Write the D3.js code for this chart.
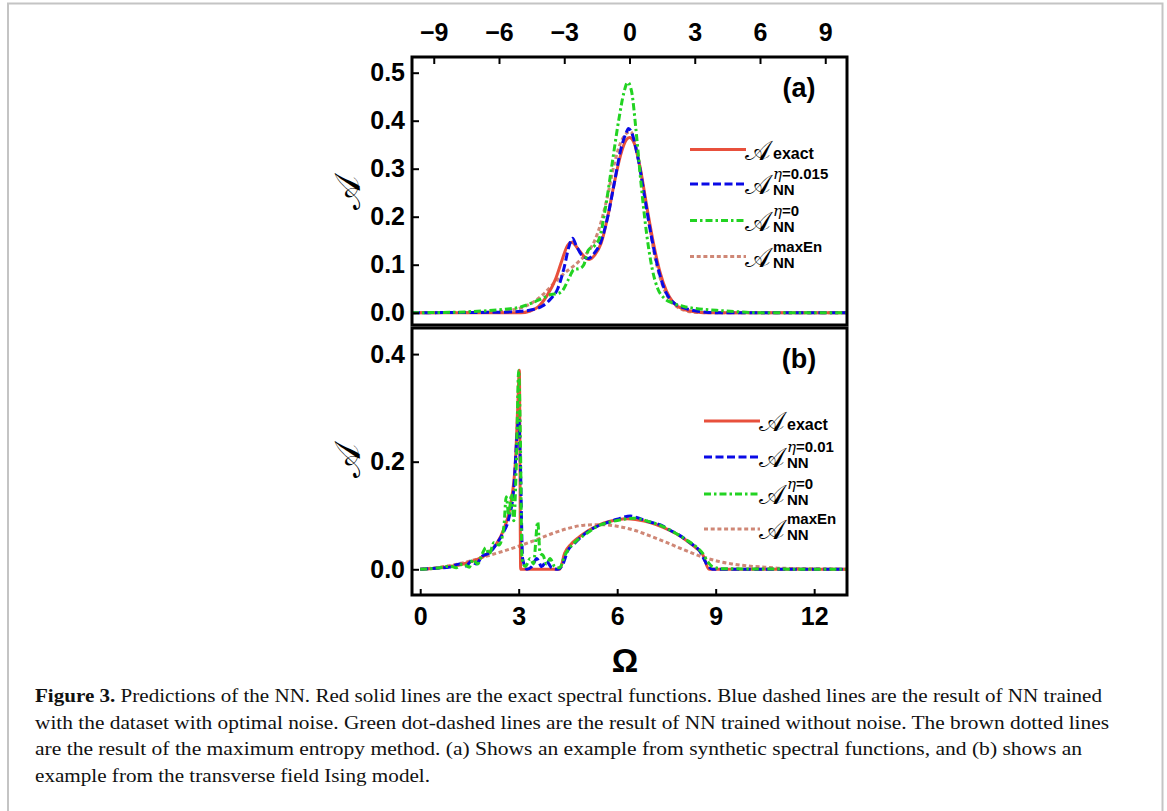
<!DOCTYPE html>
<html>
<head>
<meta charset="utf-8">
<style>
  body { margin: 0; background: #fff; }
  svg { display: block; }
</style>
</head>
<body>
<svg width="1167" height="811"></svg>
<script src="https://cdn.jsdelivr.net/npm/d3@7" charset="utf-8"></script>
<script>
// ---- data ----
// panel (a): synthetic spectral function, top axis -10..10
const aTicksTop = [-9, -6, -3, 0, 3, 6, 9];
const aTicksY = [0, 0.1, 0.2, 0.3, 0.4, 0.5];
const aExact = [[-10,0],[-5,0],[-4.6,0.003],[-4.2,0.012],[-3.8,0.035],[-3.4,0.07],[-3.1,0.11],[-2.85,0.14],[-2.65,0.147],[-2.4,0.135],[-2.1,0.118],[-1.85,0.111],[-1.6,0.12],[-1.3,0.145],[-1.0,0.2],[-0.7,0.27],[-0.4,0.33],[-0.15,0.36],[0,0.365],[0.2,0.355],[0.5,0.3],[0.8,0.22],[1.1,0.145],[1.4,0.085],[1.7,0.045],[2.0,0.022],[2.5,0.007],[3.0,0.002],[3.5,0],[10,0]];
const aNoise = [[-10,0],[-6,0.001],[-5,0.003],[-4.5,0.006],[-4.0,0.014],[-3.6,0.03],[-3.3,0.05],[-3.0,0.095],[-2.8,0.135],[-2.62,0.155],[-2.45,0.14],[-2.2,0.12],[-1.9,0.113],[-1.6,0.125],[-1.3,0.15],[-1.0,0.2],[-0.7,0.27],[-0.4,0.34],[-0.15,0.375],[-0.05,0.384],[0.1,0.375],[0.4,0.32],[0.7,0.24],[1.0,0.16],[1.3,0.095],[1.6,0.05],[2.0,0.022],[2.5,0.01],[3.0,0.004],[3.5,0.001],[4,0],[10,0]];
const aClean = [[-10,0],[-8,0.001],[-7,0.003],[-6,0.006],[-5,0.012],[-4.5,0.02],[-4.0,0.03],[-3.6,0.038],[-3.3,0.04],[-3.1,0.045],[-2.8,0.07],[-2.55,0.09],[-2.3,0.092],[-2.1,0.1],[-1.9,0.13],[-1.6,0.14],[-1.35,0.16],[-1.1,0.22],[-0.8,0.31],[-0.5,0.4],[-0.25,0.46],[-0.08,0.48],[0.1,0.46],[0.3,0.38],[0.55,0.26],[0.8,0.16],[1.05,0.09],[1.3,0.05],[1.6,0.03],[2.0,0.02],[2.5,0.013],[3.0,0.009],[4.0,0.005],[5.0,0.002],[6,0],[10,0]];
const aMaxEn = [[-10,0],[-6.5,0.001],[-5.5,0.005],[-5.0,0.01],[-4.5,0.02],[-4.0,0.037],[-3.5,0.06],[-3.0,0.082],[-2.5,0.1],[-2.0,0.122],[-1.6,0.15],[-1.3,0.19],[-1.0,0.245],[-0.7,0.31],[-0.4,0.355],[-0.1,0.375],[0.05,0.377],[0.3,0.345],[0.6,0.27],[0.9,0.185],[1.2,0.11],[1.5,0.06],[1.8,0.03],[2.2,0.012],[2.6,0.004],[3.0,0.001],[3.5,0],[10,0]];

// panel (b): transverse field Ising model, bottom axis -0.25..13
const bTicksX = [0, 3, 6, 9, 12];
const bTicksY = [0, 0.2, 0.4];
const bExact = [[0,0],[0.5,0.002],[1.0,0.006],[1.5,0.013],[2.0,0.027],[2.3,0.045],[2.55,0.075],[2.75,0.12],[2.9,0.2],[2.97,0.3],[3.02,0.37],[3.06,0],[4.25,0],[4.4,0.03],[4.6,0.047],[4.8,0.058],[5.0,0.067],[5.3,0.078],[5.6,0.086],[6.0,0.092],[6.3,0.094],[6.6,0.092],[7.0,0.087],[7.4,0.078],[7.8,0.066],[8.1,0.054],[8.4,0.04],[8.6,0.028],[8.8,0],[13,0]];
const bNoise = [[0,0],[0.5,0.002],[0.9,0.004],[1.2,0.01],[1.4,0.006],[1.55,0.015],[1.7,0.01],[1.9,0.025],[2.1,0.03],[2.3,0.045],[2.5,0.065],[2.7,0.095],[2.85,0.15],[2.95,0.25],[3.0,0.28],[3.05,0.2],[3.12,0.02],[3.25,0],[3.4,0.005],[3.55,0.02],[3.7,0.005],[3.85,0.015],[4.0,0.003],[4.2,0],[4.35,0.01],[4.5,0.035],[4.7,0.048],[4.9,0.06],[5.1,0.07],[5.4,0.08],[5.7,0.087],[6.0,0.093],[6.4,0.099],[6.7,0.094],[7.0,0.088],[7.3,0.083],[7.6,0.073],[7.9,0.063],[8.2,0.05],[8.5,0.035],[8.75,0.008],[8.9,0],[13,0]];
const bClean = [[0,0],[0.6,0.003],[0.9,0.006],[1.1,0.003],[1.3,0.01],[1.5,0.004],[1.6,0.018],[1.75,0.01],[1.9,0.03],[2.0,0.04],[2.1,0.028],[2.25,0.05],[2.4,0.045],[2.55,0.08],[2.62,0.135],[2.7,0.1],[2.78,0.14],[2.85,0.09],[2.93,0.2],[3.0,0.37],[3.05,0.25],[3.1,0.02],[3.2,0.005],[3.35,0.02],[3.45,0.01],[3.58,0.088],[3.65,0.03],[3.75,0.025],[3.85,0.01],[3.95,0.02],[4.1,0.005],[4.25,0.003],[4.4,0.025],[4.55,0.04],[4.8,0.055],[5.1,0.068],[5.4,0.08],[5.8,0.088],[6.2,0.093],[6.5,0.095],[6.9,0.09],[7.3,0.082],[7.7,0.07],[8.1,0.055],[8.4,0.042],[8.6,0.03],[8.75,0.015],[8.9,0.005],[9.2,0.001],[13,0]];
const bMaxEn = [[0,0],[0.5,0.003],[1.0,0.008],[1.5,0.015],[2.0,0.024],[2.5,0.033],[3.0,0.043],[3.5,0.054],[4.0,0.066],[4.5,0.076],[5.0,0.082],[5.5,0.083],[6.0,0.08],[6.5,0.073],[7.0,0.062],[7.5,0.05],[8.0,0.037],[8.5,0.025],[9.0,0.016],[9.5,0.01],[10.0,0.006],[10.5,0.004],[11.0,0.002],[12.0,0.001],[13,0]];

const aLegendEta = ["exact", "0.015", "0", "maxEn"];
const bLegendEta = ["exact", "0.01", "0", "maxEn"];

const captionLines = [
  "Predictions of the NN. Red solid lines are the exact spectral functions. Blue dashed lines are the result of NN trained",
  "with the dataset with optimal noise. Green dot-dashed lines are the result of NN trained without noise. The brown dotted lines",
  "are the result of the maximum entropy method. (a) Shows an example from synthetic spectral functions, and (b) shows an",
  "example from the transverse field Ising model."
];

// ---- styles ----
const styles = [
  { color: "#e8503c", dash: null },
  { color: "#0a0ae6", dash: "8,3.5" },
  { color: "#22d322", dash: "7,3,2.5,3" },
  { color: "#cf8776", dash: "4,2.7" }
];

const svg = d3.select("svg");
const tickFont = "Liberation Sans, Arial, sans-serif";

// light figure border
svg.append("rect")
  .attr("x", 8).attr("y", 3.5)
  .attr("width", 1154.5).attr("height", 900)
  .attr("fill", "none").attr("stroke", "#c4c4c4").attr("stroke-width", 2);

const xa = d3.scaleLinear([-10, 10], [412, 847]);
const ya = d3.scaleLinear([-0.0256, 0.5327], [325, 57]);
const xb = d3.scaleLinear([-0.25, 13], [412, 847]);
const yb = d3.scaleLinear([-0.0478, 0.4485], [595, 328]);

function styleAxis(g) {
  g.select(".domain").remove();
  g.selectAll(".tick line").attr("stroke", "#000").attr("stroke-width", 2);
  g.selectAll(".tick text")
    .attr("font-family", tickFont)
    .attr("font-weight", "bold")
    .attr("font-size", 25)
    .attr("fill", "#000");
}

function panel(x, y, series, legendEta, legendX, legendYs, tag, tagY, id) {
  const [x0, x1] = x.range();
  const [y1, y0] = y.range();

  svg.append("clipPath").attr("id", id)
    .append("rect").attr("x", x0).attr("y", y0)
    .attr("width", x1 - x0).attr("height", y1 - y0);

  const line = d3.line()
    .x(d => x(d[0]))
    .y(d => y(d[1]))
    .curve(d3.curveMonotoneX);

  const g = svg.append("g").attr("clip-path", `url(#${id})`);
  const order = [3, 0, 1, 2];
  order.forEach(i => {
    g.append("path")
      .attr("d", line(series[i]))
      .attr("fill", "none")
      .attr("stroke", styles[i].color)
      .attr("stroke-width", 3)
      .attr("stroke-dasharray", styles[i].dash);
  });

  svg.append("rect")
    .attr("x", x0).attr("y", y0)
    .attr("width", x1 - x0).attr("height", y1 - y0)
    .attr("fill", "none").attr("stroke", "#000").attr("stroke-width", 3);

  svg.append("text")
    .attr("x", 799).attr("y", tagY)
    .attr("text-anchor", "middle")
    .attr("font-family", tickFont).attr("font-weight", "bold")
    .attr("font-size", 27)
    .text(tag);

  // y label
  const yMid = id === "clipA" ? 193 : 461;
  svg.append("text")
    .attr("transform", `translate(347,${yMid}) rotate(-90)`)
    .attr("text-anchor", "middle")
    .attr("dy", "0.35em")
    .attr("font-family", "DejaVu Serif, serif")
    .attr("font-size", 36)
    .text("\u{1D49C}");

  // legend
  legendEta.forEach((lab, i) => {
    const ly = legendYs[i];
    svg.append("line")
      .attr("x1", legendX).attr("x2", legendX + 56)
      .attr("y1", ly).attr("y2", ly)
      .attr("stroke", styles[i].color)
      .attr("stroke-width", 3)
      .attr("stroke-dasharray", styles[i].dash);
    const tx = legendX + 55;
    svg.append("text")
      .attr("x", tx).attr("y", ly + 10)
      .attr("font-family", "DejaVu Serif, serif")
      .attr("font-size", 27)
      .text("\u{1D49C}");
    const sx = tx + 28;
    if (lab === "exact") {
      svg.append("text")
        .attr("x", sx).attr("y", ly + 9)
        .attr("font-family", tickFont).attr("font-weight", "bold")
        .attr("font-size", 16)
        .text("exact");
    } else {
      svg.append("text")
        .attr("x", sx).attr("y", ly + 11)
        .attr("font-family", tickFont).attr("font-weight", "bold")
        .attr("font-size", 15)
        .text("NN");
      const sup = svg.append("text")
        .attr("x", sx).attr("y", ly - 5)
        .attr("font-family", tickFont).attr("font-weight", "bold")
        .attr("font-size", 15);
      if (lab === "maxEn") {
        sup.text("maxEn");
      } else {
        sup.append("tspan").attr("font-style", "italic").attr("font-family", "DejaVu Serif, serif")
          .attr("font-weight", "normal").text("\u03B7");
        sup.append("tspan").text("=" + lab);
      }
    }
  });
}

// panel (a)
panel(xa, ya, [aExact, aNoise, aClean, aMaxEn], aLegendEta, 690,
  [149.5, 184, 220.5, 256.5], "(a)", 97, "clipA");

svg.append("g")
  .attr("transform", `translate(412,0)`)
  .call(d3.axisLeft(ya).tickValues(aTicksY).tickFormat(d3.format(".1f")).tickSize(-7).tickPadding(7))
  .call(styleAxis);

svg.append("g")
  .attr("transform", `translate(0,57)`)
  .call(d3.axisTop(xa).tickValues(aTicksTop).tickFormat(d => (d < 0 ? "\u2212" : "") + Math.abs(d)).tickSize(-7).tickPadding(16))
  .call(styleAxis);

// panel (b)
panel(xb, yb, [bExact, bNoise, bClean, bMaxEn], bLegendEta, 704,
  [421, 457, 494, 529], "(b)", 368, "clipB");

svg.append("g")
  .attr("transform", `translate(412,0)`)
  .call(d3.axisLeft(yb).tickValues(bTicksY).tickFormat(d3.format(".1f")).tickSize(-7).tickPadding(7))
  .call(styleAxis);

svg.append("g")
  .attr("transform", `translate(0,595)`)
  .call(d3.axisBottom(xb).tickValues(bTicksX).tickSize(-6).tickPadding(12))
  .call(styleAxis);

svg.append("text")
  .attr("x", 625).attr("y", 672)
  .attr("text-anchor", "middle")
  .attr("font-family", tickFont).attr("font-weight", "bold")
  .attr("font-size", 33)
  .text("\u03A9");

// caption
const capWidths = [1067, 1074, 1047, 395];
const cap = svg.append("g")
  .attr("font-family", "Liberation Serif, Times New Roman, serif")
  .attr("font-size", 19.5)
  .attr("fill", "#111");
captionLines.forEach((t, i) => {
  const txt = cap.append("text")
    .attr("x", 35).attr("y", 702 + i * 26.7)
    .attr("textLength", capWidths[i])
    .attr("lengthAdjust", "spacingAndGlyphs");
  if (i === 0) {
    txt.append("tspan").attr("font-weight", "bold").text("Figure 3. ");
  }
  txt.append("tspan").text(t);
});
</script>
</body>
</html>
